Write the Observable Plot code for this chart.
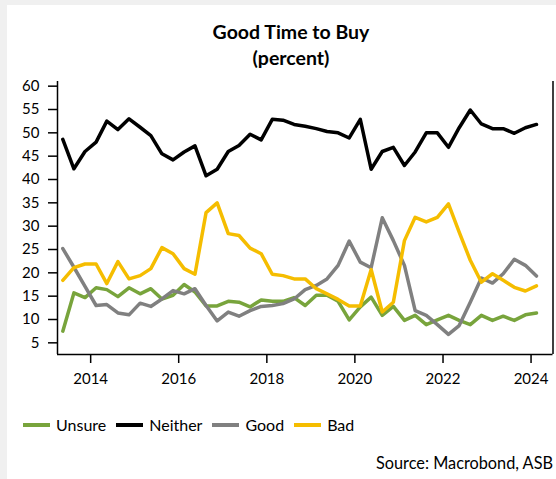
<!DOCTYPE html>
<html>
<head>
<meta charset="utf-8">
<script src="https://cdn.jsdelivr.net/npm/d3@7"></script>
<script src="https://cdn.jsdelivr.net/npm/@observablehq/plot@0.6"></script>
<style>
  html, body { margin: 0; padding: 0; }
  body { width: 556px; height: 479px; background: #f0f0f0; position: relative; overflow: hidden; font-family: Lato, "Open Sans", sans-serif; color: #000; }
  #panel { position: absolute; left: 7px; top: 5px; width: 549px; height: 474px; background: #fff; }
  #title { position: absolute; left: 0; width: 582px; top: 19px; text-align: center; font-weight: bold; font-size: 19.5px; line-height: 26px; }
  #chart { position: absolute; left: 0; top: 70px; }
  #legend { position: absolute; left: 23px; top: 415px; display: flex; align-items: center; font-size: 16px; line-height: 20px; }
  .item { display: flex; align-items: center; margin-right: 10px; }
  .sw { width: 27px; height: 4px; margin-right: 6px; }
  #source { position: absolute; right: 3px; top: 453px; font-size: 16.3px; line-height: 20px; }
</style>
</head>
<body>
<div id="panel"></div>
<div id="title">Good Time to Buy<br>(percent)</div>
<div id="chart"></div>
<div id="legend"></div>
<div id="source">Source: Macrobond, ASB</div>
<script>
// Survey quarters (month of survey)
const quarters = [
  "2013-05","2013-08","2013-11","2014-02","2014-05","2014-08","2014-11","2015-02","2015-05","2015-08",
  "2015-11","2016-02","2016-05","2016-08","2016-11","2017-02","2017-05","2017-08","2017-11","2018-02",
  "2018-05","2018-08","2018-11","2019-02","2019-05","2019-08","2019-11","2020-02","2020-05","2020-08",
  "2020-11","2021-02","2021-05","2021-08","2021-11","2022-02","2022-05","2022-08","2022-11","2023-02",
  "2023-05","2023-08","2023-11","2024-02"
];
const unsure = [7.5,15.7,14.7,16.8,16.4,14.9,16.8,15.5,16.6,14.4,15.2,17.5,15.9,12.9,12.9,13.9,13.7,12.7,14.2,13.9,13.9,14.7,13.0,15.2,15.2,13.9,9.9,12.7,14.8,10.9,12.8,9.8,10.9,8.9,9.9,10.9,9.8,8.9,10.9,9.8,10.7,9.8,11.0,11.4];
const neither = [48.6,42.3,46.0,48.0,52.5,50.7,53.0,51.2,49.4,45.5,44.2,45.9,47.2,40.8,42.2,46.0,47.3,49.7,48.5,52.9,52.7,51.8,51.4,50.9,50.3,50.0,48.9,52.9,42.2,46.0,46.9,43.0,45.9,50.0,50.0,46.9,51.1,54.9,51.9,50.9,50.9,49.9,51.1,51.8];
const good = [25.2,21.2,17.1,13.0,13.2,11.4,11.0,13.5,12.8,14.4,16.2,15.5,16.6,13.0,9.7,11.6,10.7,11.9,12.8,13.0,13.4,14.4,16.4,17.3,18.7,21.6,26.8,22.3,21.1,31.8,26.9,21.6,11.9,10.9,8.9,6.8,8.7,13.7,18.9,17.8,19.8,22.9,21.6,19.3];
const bad = [18.4,21.1,21.9,21.9,17.7,22.4,18.7,19.4,20.9,25.4,24.1,20.9,19.7,32.9,35.0,28.4,28.0,25.3,24.1,19.7,19.4,18.7,18.7,16.6,15.5,14.3,12.9,12.9,20.7,11.6,13.7,26.9,31.9,30.9,31.9,34.8,28.7,22.7,18.0,19.8,18.4,16.9,16.1,17.2];

const seriesNames = ["Unsure", "Neither", "Good", "Bad"];
const seriesColors = ["#78a43c", "#000000", "#808080", "#f5bd00"];
const yTicks = [5,10,15,20,25,30,35,40,45,50,55,60];
const xTickYears = [2014,2016,2018,2020,2022,2024];

const seriesValues = [unsure, neither, good, bad];
const data = [];
seriesNames.forEach((name, i) => {
  seriesValues[i].forEach((v, j) => {
    data.push({series: name, date: new Date(quarters[j] + "-15T00:00:00Z"), value: v});
  });
});

const x0 = new Date("2013-04-01T00:00:00Z");
const x1 = new Date("2024-07-01T00:00:00Z");
const yMin = 2.5, yMax = 61;

const chart = Plot.plot({
  width: 556,
  height: 330,
  marginTop: 11,
  marginBottom: 46,
  marginLeft: 57,
  marginRight: 3.5,
  style: {fontFamily: "Lato, 'Open Sans', sans-serif", fontSize: "15px", color: "#000", background: "transparent", overflow: "visible"},
  x: {type: "utc", domain: [x0, x1]},
  y: {domain: [yMin, yMax]},
  color: {domain: seriesNames, range: seriesColors},
  marks: [
    Plot.axisX({ticks: xTickYears.map(y => new Date(Date.UTC(y, 0, 1))), tickFormat: d3.utcFormat("%Y"), tickSize: 9, tickPadding: 10, strokeWidth: 1.5, label: null, fill: "#000"}),
    Plot.axisY({ticks: yTicks, tickSize: 9, tickPadding: 9, strokeWidth: 1.5, label: null, fill: "#000"}),
    Plot.ruleX([x0, x1], {stroke: "#000", strokeWidth: 1.5}),
    Plot.ruleY([yMin], {stroke: "#000", strokeWidth: 1.5}),
    Plot.lineY(data, {x: "date", y: "value", stroke: "series", z: "series", strokeWidth: 3.5, strokeLinejoin: "round"})
  ]
});
document.getElementById("chart").appendChild(chart);

const legend = document.getElementById("legend");
seriesNames.forEach((name, i) => {
  const item = document.createElement("div");
  item.className = "item";
  const sw = document.createElement("div");
  sw.className = "sw";
  sw.style.background = seriesColors[i];
  const t = document.createElement("span");
  t.textContent = name;
  item.appendChild(sw);
  item.appendChild(t);
  legend.appendChild(item);
});
</script>
</body>
</html>
